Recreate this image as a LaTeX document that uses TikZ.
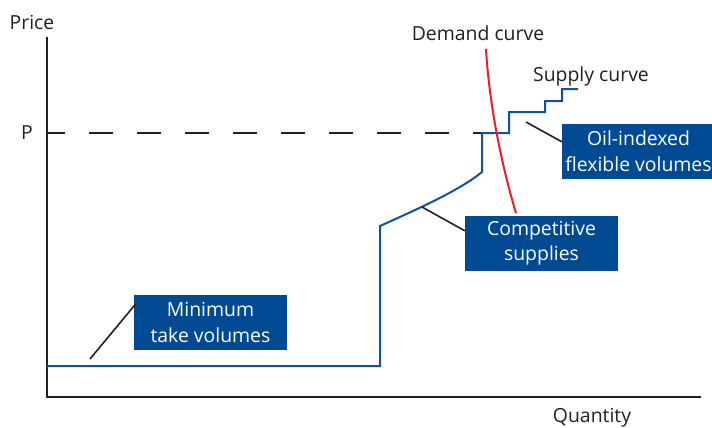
\documentclass[tikz,border=0pt]{standalone}
\usepackage{fontspec}
\setmainfont{Open Sans}
\definecolor{boxblue}{RGB}{0,74,147}
\definecolor{lineblue}{RGB}{16,82,160}
\definecolor{demandred}{RGB}{232,30,40}
\definecolor{axisgray}{RGB}{35,31,32}
\begin{document}
\begin{tikzpicture}[x=1pt,y=-1pt,font=\fontsize{19.4}{25.5}\selectfont,
    labelbox/.style={fill=boxblue,text=white,align=center,inner sep=0pt,
      minimum width=153pt,minimum height=55pt},
    leader/.style={color=axisgray,line width=1.6pt},
    supply/.style={color=lineblue,line width=2pt}]
  \useasboundingbox (0,0) rectangle (712,428);
  % axes
  \draw[color=axisgray, line width=2.6pt] (47,37) -- (47,397) -- (701,397) ;
  \node[text=axisgray] (price) at (32,22) {Price};
  \node[text=axisgray] (quantity) at (592,418) {Quantity};
  \node[text=axisgray] (plabel) at (27,133) {P};
  \draw[color=axisgray, line width=2.4pt, dash pattern=on 24pt off 24pt, dash phase=6pt] (47,133) -- (482,133) ;
  % supply curve
  \draw[supply] (47,366) -- (380,366) -- (380,226)
    .. controls (420,208) and (460,190) .. (482,172)
    -- (482,133) -- (509,133) -- (509,112) -- (545,112) -- (545,101)
    -- (562,101) -- (562,89) -- (578,89) ;
  \coordinate (mintake) at (90,359) ;
  \coordinate (compet) at (422,207) ;
  \coordinate (oilstep) at (526,122) ;
  % demand curve
  \draw[color=demandred, line width=2pt] (486,49) .. controls (489,100) and (500,160) .. (516,213) ;
  \node[text=axisgray] (demand) at (478,33) {Demand curve};
  \node[text=axisgray] (supplylabel) at (591,76) {Supply curve};
  % labels
  \node[labelbox] (minbox) at (210.5,322.5) {Minimum\\take volumes};
  \node[labelbox] (compbox) at (541.5,243) {Competitive\\supplies};
  \node[labelbox] (oilbox) at (638.5,151) {Oil-indexed\\flexible volumes};
  \draw[leader] (mintake) -- ([xshift=2pt,yshift=-9pt]minbox.north west) ;
  \draw[leader] (compet) -- ([yshift=-15.5pt]compbox.north west) ;
  \draw[leader] (oilstep) -- ([yshift=-18.5pt]oilbox.north west) ;
\end{tikzpicture}
\end{document}
